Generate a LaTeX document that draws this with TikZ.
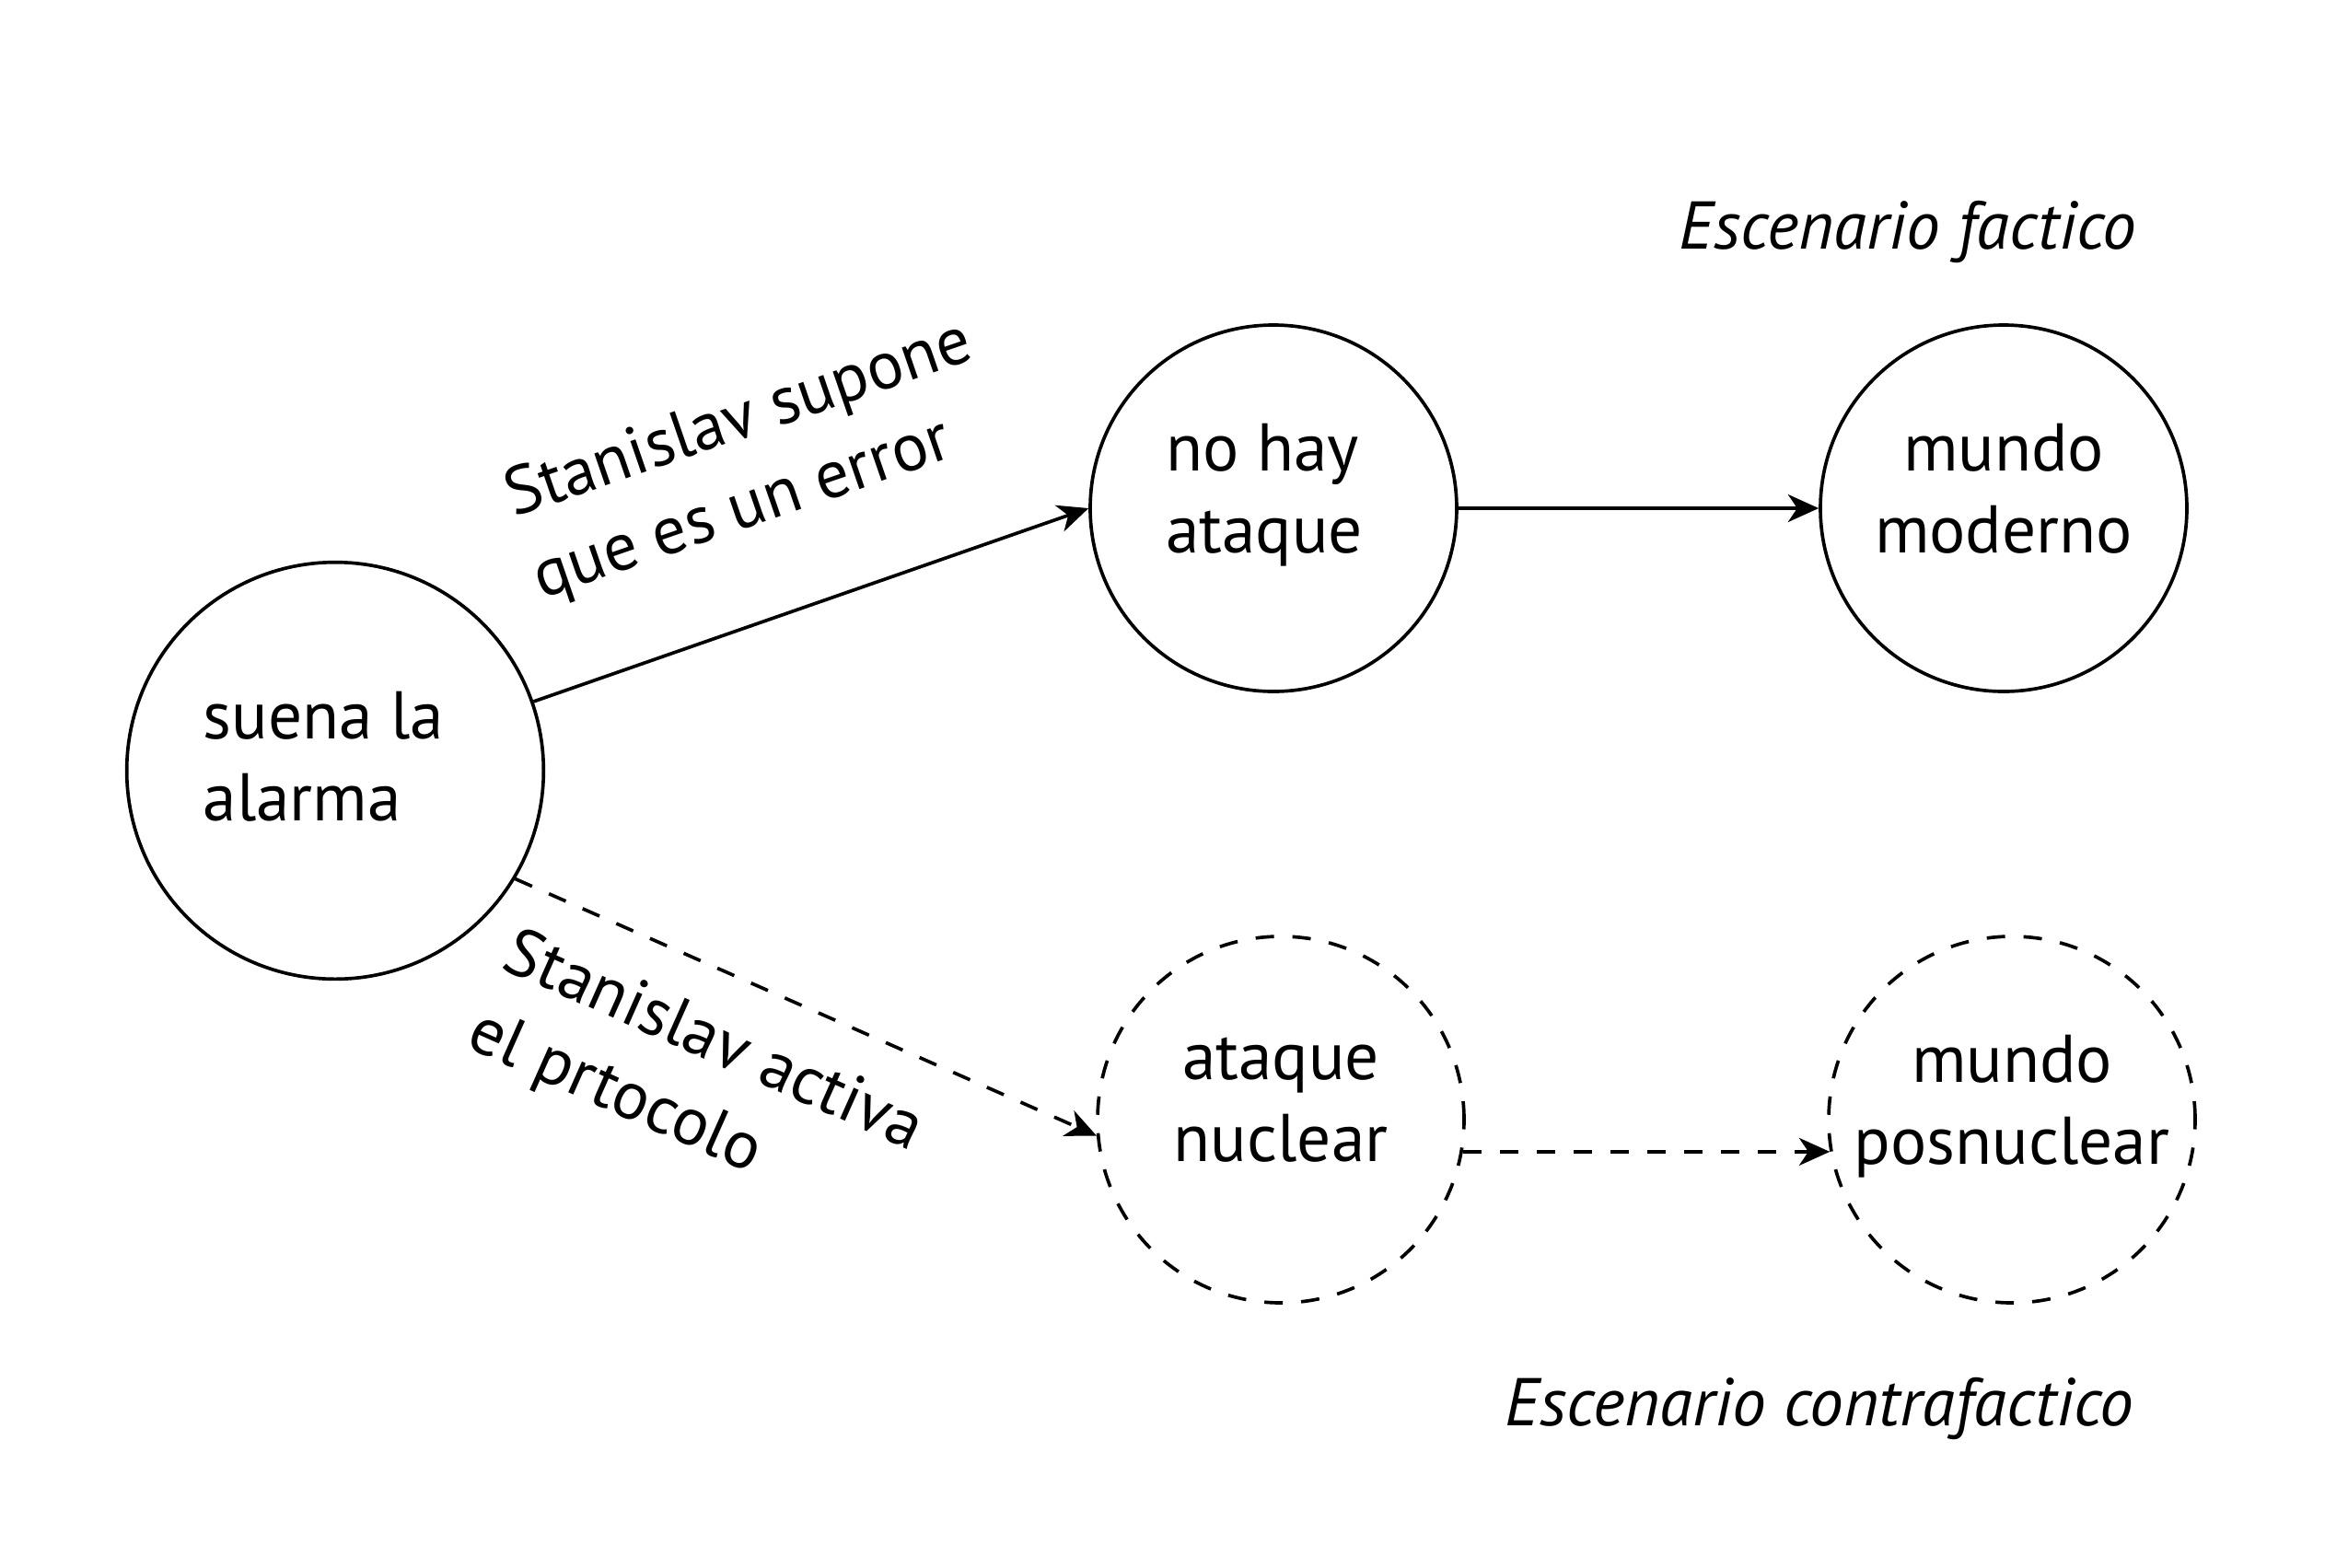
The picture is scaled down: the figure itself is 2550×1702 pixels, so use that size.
\documentclass[tikz,border=0pt]{standalone}
\usepackage{fontspec}
\setmainfont{PT Sans}
\usetikzlibrary{arrows.meta}

\begin{document}
\begin{tikzpicture}[x=0.3pt,y=0.3pt,yscale=-1,xscale=1,
	estado/.style={circle,draw,line width=1.1pt,minimum size=119.4pt,inner sep=-2pt,text depth=13pt,align=center,font=\fontsize{22}{26.7}\selectfont},
	contra/.style={estado,dash pattern=on 6pt off 6pt},
	flecha/.style={line width=1.1pt,-{Stealth[length=10pt,width=9pt,inset=3pt]}},
	flechacontra/.style={flecha,dash pattern=on 6pt off 6pt},
	supuesto/.style={align=left,inner sep=0pt,font=\fontsize{22}{28}\selectfont},
	escenario/.style={anchor=base east,inner sep=0pt,font=\fontsize{22}{26}\selectfont\itshape}]
	%set diagram to the size of the figure
	\useasboundingbox (0,0) rectangle (2550,1702);
	
	%Shape: Circle [suena la alarma]
	\node [estado,minimum size=135.8pt,text width=86pt,align=flush left,text height=16pt,text depth=36.6pt] (alarma) at (364,837) {suena la\\alarma};
	%Shape: Circle [no hay ataque]
	\node [estado,text width=70pt,align=flush left,text height=16pt,text depth=40.6pt] (nohay) at (1383,552) {no hay\\ataque};
	%Shape: Circle [mundo moderno]
	\node [estado] (moderno) at (2176,552) {mundo\\moderno};
	%Shape: Circle [ataque nuclear]
	\node [contra] (nuclear) at (1391,1216) {ataque\\nuclear};
	%Shape: Circle [mundo posnuclear]
	\node [contra] (posnuclear) at (2185,1216) {mundo\\posnuclear};
	
	%Straight Lines
	\draw [flecha] (alarma) -- (nohay.west);
	%Straight Lines
	\draw [flecha] (nohay) -- (moderno);
	%Straight Lines
	\draw [flechacontra] (alarma.-31) -- (nuclear.185);
	%Straight Lines
	\draw [flechacontra] (nuclear.-10) -- (posnuclear.190);
	
	% Text Node
	\node [supuesto,rotate=19] (supone) at (818,502) {Stanislav supone\\que es un error};
	% Text Node
	\node [supuesto,rotate=-24] (activa) at (755,1176) {Stanislav activa\\el prtocolo};
	% Text Node
	\node [escenario] (factico) at (2321,270) {Escenario factico};
	% Text Node
	\node [escenario] (contrafactico) at (2318,1548) {Escenario contrafactico};
	
\end{tikzpicture}
\end{document}
